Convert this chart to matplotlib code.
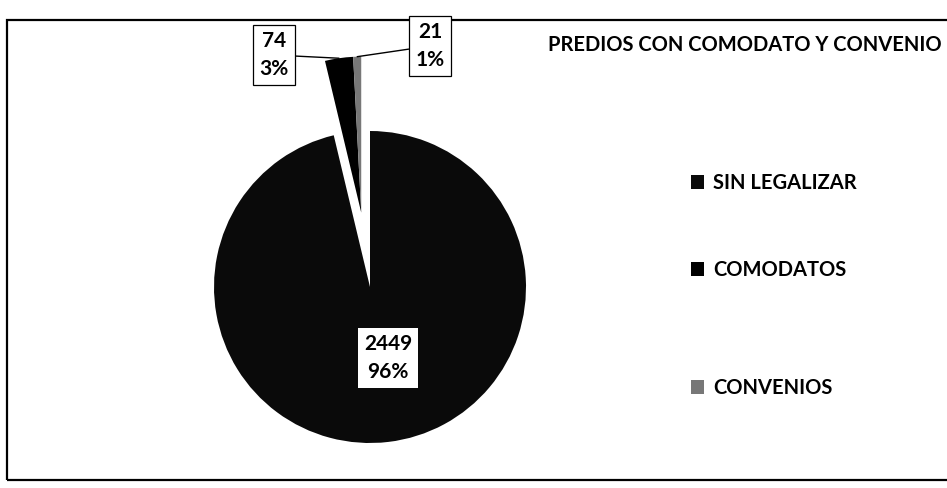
import numpy as np
import matplotlib
matplotlib.use("Agg")
import matplotlib.pyplot as plt
from matplotlib.patches import Rectangle

plt.rcParams['font.family'] = ['Lato', 'DejaVu Sans']

categories = ['SIN LEGALIZAR', 'COMODATOS', 'CONVENIOS']
values = [2449, 74, 21]
colors = ['#0a0a0a', '#000000', '#777777']
title = 'PREDIOS CON COMODATO Y CONVENIO'

W, H = 947, 488
fig = plt.figure(figsize=(W / 100, H / 100), dpi=100)
ax = fig.add_axes([0, 0, 1, 1])

# work in pixel units, y going up
cx, cy, r = 370, H - 287, 156
wedges, _ = ax.pie(values, colors=colors, startangle=90, counterclock=False,
                   center=(cx, cy), radius=r,
                   wedgeprops=dict(linewidth=0))

# the two small slices are pulled out together, along their joint middle
total = sum(values)
small = sum(values[1:]) / total * 360
ang = np.deg2rad(90 + small / 2)
shift = 0.48 * r
dx, dy = shift * np.cos(ang), shift * np.sin(ang)
for w in wedges[1:]:
    w.set_center((cx + dx, cy + dy))

ax.set_xlim(0, W)
ax.set_ylim(0, H)
ax.set_aspect('equal')
ax.axis('off')

# data labels
box = dict(boxstyle='square,pad=0.3', fc='white', ec='black', lw=0.9)
lbl_pos = [(388, H - 358), (274, H - 55), (430, H - 46)]
for w, v, pos in zip(wedges, values, lbl_pos):
    txt = f"{v}\n{round(v / total * 100)}%"
    if w is wedges[0]:
        ax.text(*pos, txt, ha='center', va='center', fontsize=15,
                fontweight='bold', linespacing=1.45,
                bbox=dict(boxstyle='square,pad=0.3', fc='white', ec='none'))
    else:
        mid = np.deg2rad((w.theta1 + w.theta2) / 2)
        wx, wy = w.center
        tip = (wx + r * np.cos(mid), wy + r * np.sin(mid))
        ax.annotate(txt, xy=tip, xytext=pos, ha='center', va='center',
                    fontsize=15, fontweight='bold', linespacing=1.45, bbox=box,
                    arrowprops=dict(arrowstyle='-', lw=1, color='black',
                                    shrinkA=0, shrinkB=0))

ax.text(548, H - 45, title, ha='left', va='center', fontsize=14.5,
        fontweight='bold')

# legend entries sit at uneven heights in the original
leg_y = [H - 183, H - 270, H - 388]
for w, name, y in zip(wedges, categories, leg_y):
    fig.legend([w], [name], loc='center left', bbox_to_anchor=(691, y),
               bbox_transform=ax.transData, frameon=False, borderpad=0,
               borderaxespad=0, handlelength=0.65, handleheight=0.65,
               handletextpad=0.45, prop=dict(size=14.5, weight='bold'))

# chart frame (right side runs off the page)
ax.add_patch(Rectangle((7, H - 480), W + 20, 460, fill=False, lw=1.6,
                       ec='black', clip_on=False))

fig.savefig('out.png', dpi=100)
